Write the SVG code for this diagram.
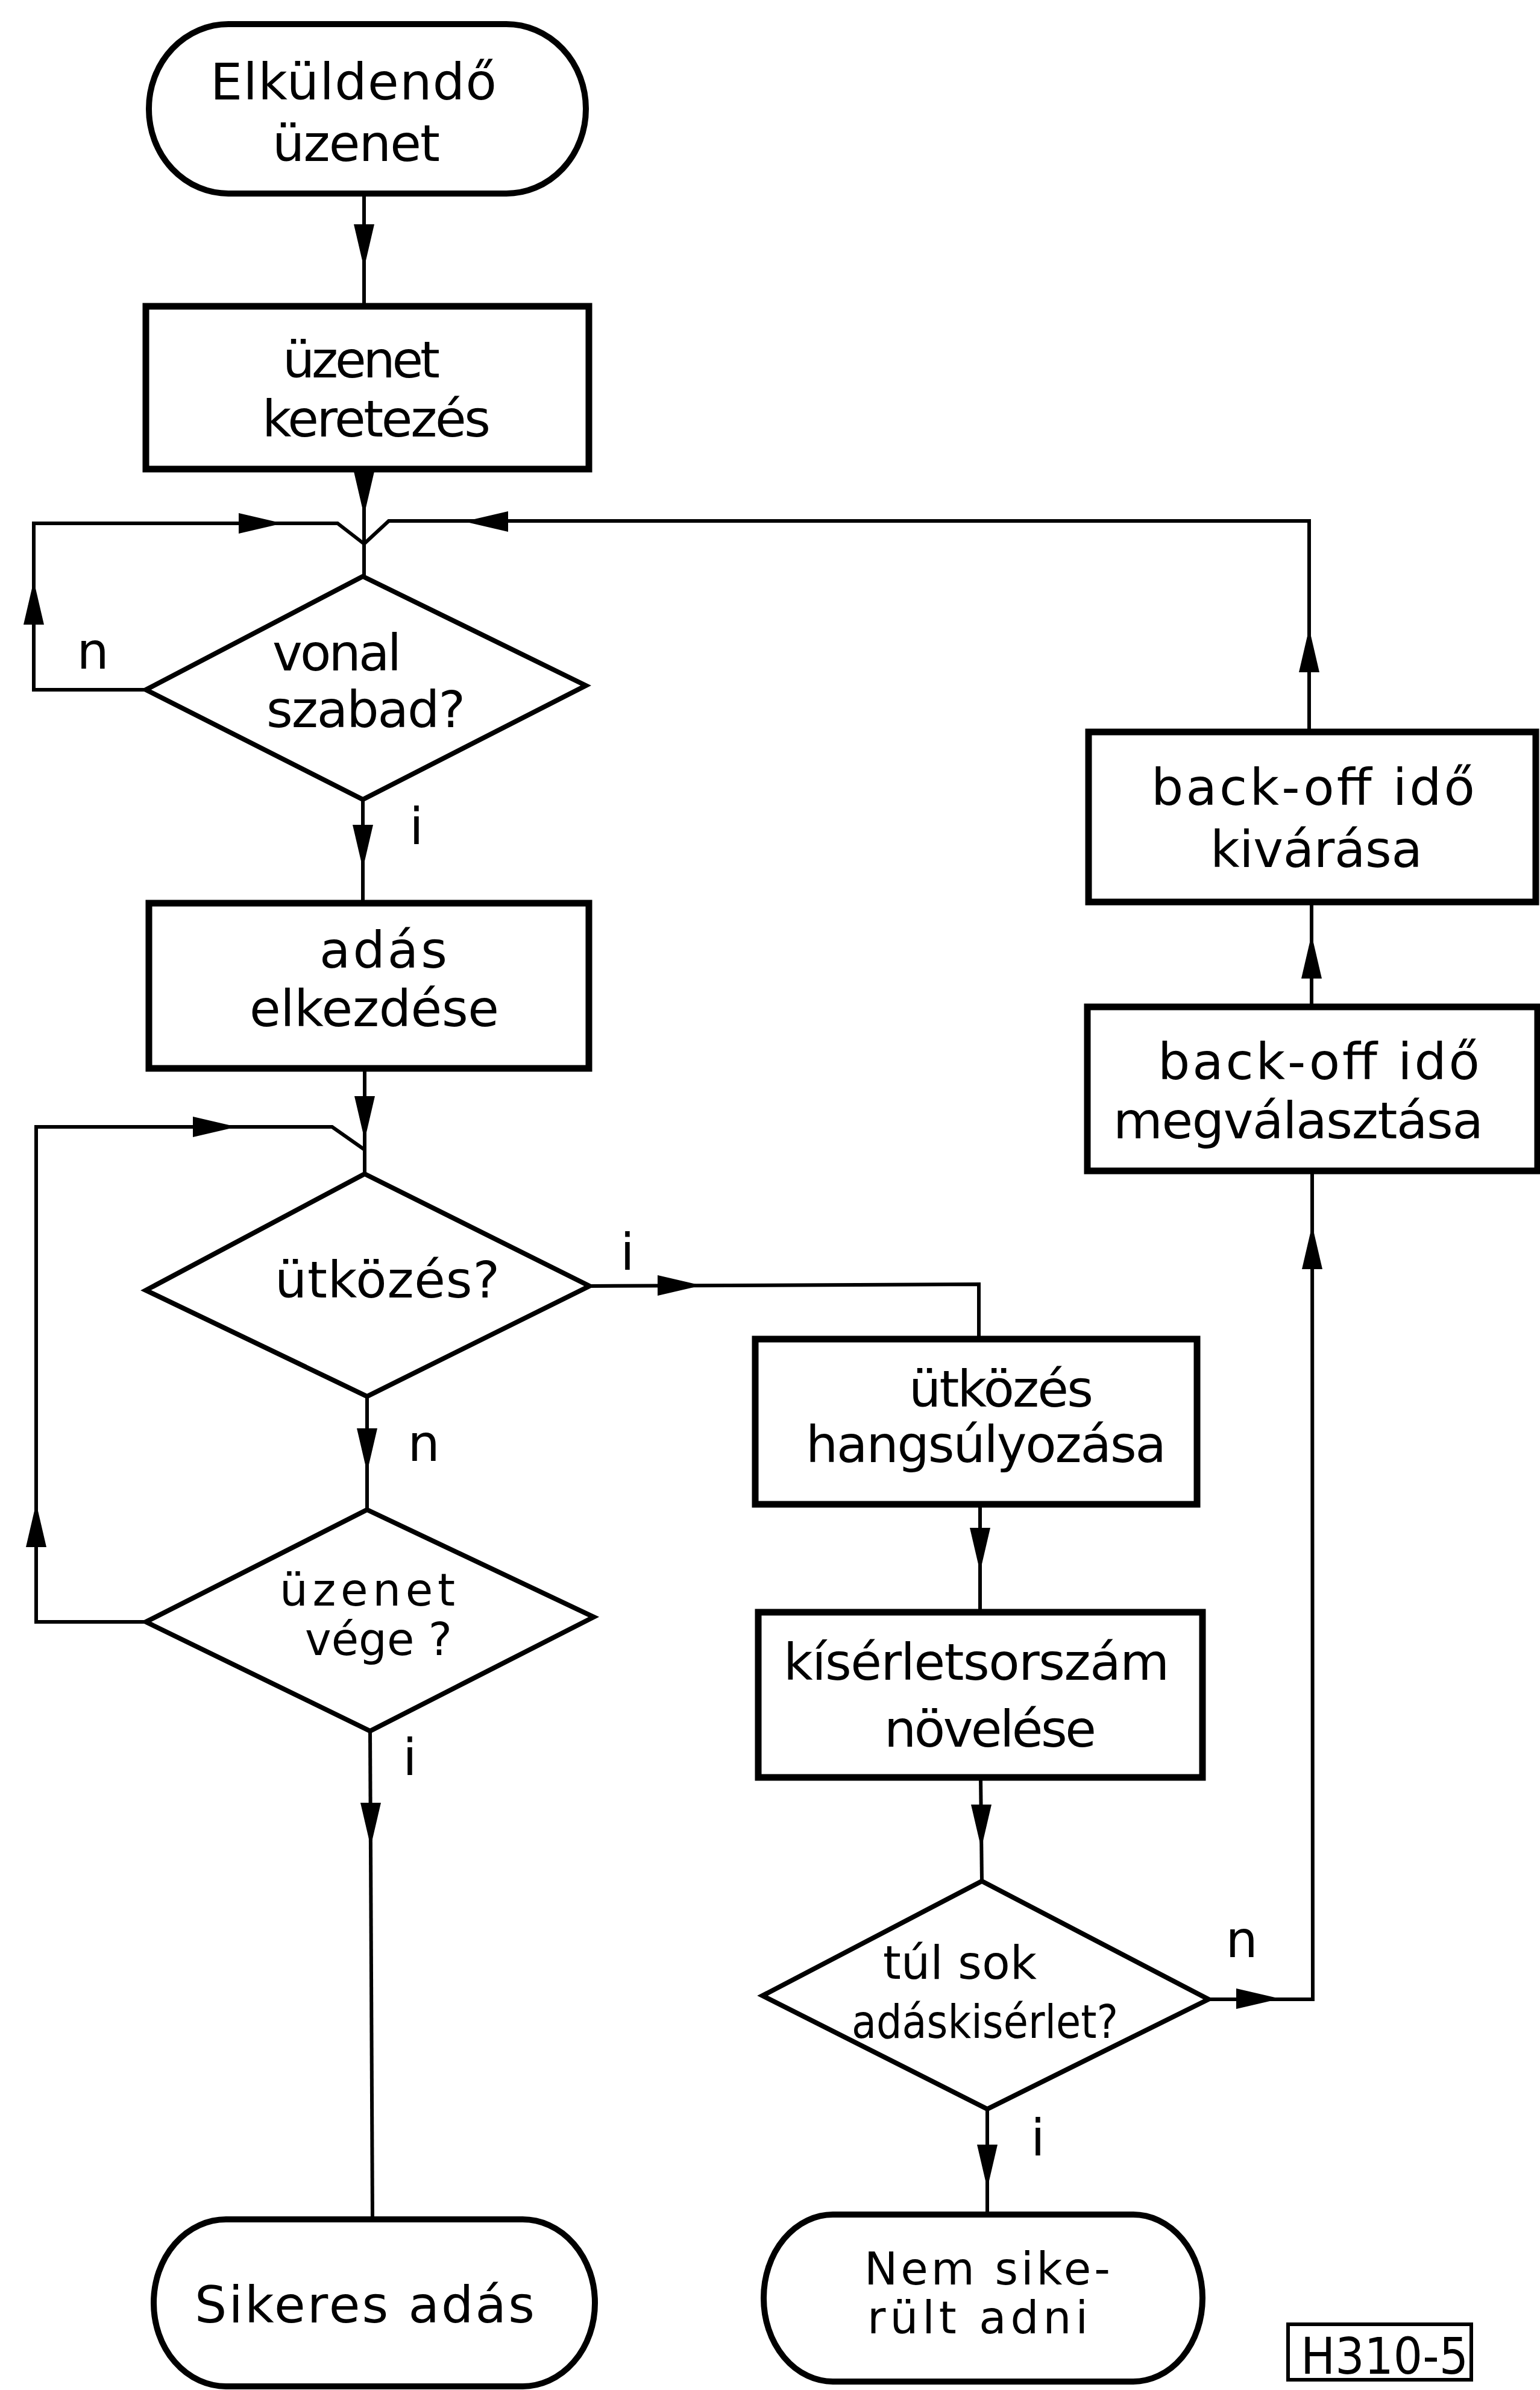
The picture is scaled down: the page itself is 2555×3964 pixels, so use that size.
<svg xmlns="http://www.w3.org/2000/svg" xmlns:xlink="http://www.w3.org/1999/xlink" width="2555" height="3964" viewBox="0 0 2555 3964">
<style>
.box{fill:#fff;stroke:#000;stroke-width:11;stroke-linejoin:miter}
.term{fill:#fff;stroke:#000;stroke-width:10}
.dia{fill:#fff;stroke:#000;stroke-width:8;stroke-linejoin:miter}
.conn{fill:none;stroke:#000;stroke-width:6;stroke-linejoin:miter}
text{font-family:"DejaVu Sans","Liberation Sans",sans-serif;font-size:84px;fill:#000}
.sm{font-size:74px}
.md{font-size:76px}
.lbl{text-anchor:middle}
</style>
<defs>
<path id="ah" d="M3 0 L-70 -17 L-70 17 Z" fill="#000"/>
</defs>
<rect x="0" y="0" width="2555" height="3964" fill="#fff"/>

<g id="connectors">
<path class="conn" d="M604 321 V508"/>
<path class="conn" d="M604 778 V956"/>
<path class="conn" d="M242 1144 H56 V868 H560 L604 902"/>
<path class="conn" d="M2005 3316 H2178 L2177 1942"/>
<path class="conn" d="M2176 1670 V1496"/>
<path class="conn" d="M2172 1214 V864 H645 L604 902"/>
<path class="conn" d="M602 1326 V1498"/>
<path class="conn" d="M605 1771 V1947"/>
<path class="conn" d="M242 2690 H60 V1869 H551 L605 1907"/>
<path class="conn" d="M609 2316 V2504"/>
<path class="conn" d="M978 2133 L1624 2130 V2221"/>
<path class="conn" d="M614 2871 L618 3681"/>
<path class="conn" d="M1626 2495 V2674"/>
<path class="conn" d="M1627 2948 L1629 3120"/>
<path class="conn" d="M1638 3498 V3673"/>
<use xlink:href="#ah" transform="translate(604,442) rotate(90)"/>
<use xlink:href="#ah" transform="translate(604,852) rotate(90)"/>
<use xlink:href="#ah" transform="translate(466,868)"/>
<use xlink:href="#ah" transform="translate(773,865) rotate(180)"/>
<use xlink:href="#ah" transform="translate(56,966) rotate(-90)"/>
<use xlink:href="#ah" transform="translate(602,1438) rotate(90)"/>
<use xlink:href="#ah" transform="translate(605,1888) rotate(90)"/>
<use xlink:href="#ah" transform="translate(390,1869)"/>
<use xlink:href="#ah" transform="translate(60,2496) rotate(-90)"/>
<use xlink:href="#ah" transform="translate(609,2439) rotate(90)"/>
<use xlink:href="#ah" transform="translate(1161,2132)"/>
<use xlink:href="#ah" transform="translate(615,3060) rotate(90)"/>
<use xlink:href="#ah" transform="translate(1626,2604) rotate(90)"/>
<use xlink:href="#ah" transform="translate(1628,3063) rotate(90)"/>
<use xlink:href="#ah" transform="translate(2121,3315)"/>
<use xlink:href="#ah" transform="translate(1638,3627) rotate(90)"/>
<use xlink:href="#ah" transform="translate(2177,2035) rotate(-90)"/>
<use xlink:href="#ah" transform="translate(2176,1553) rotate(-90)"/>
<use xlink:href="#ah" transform="translate(2172,1045) rotate(-90)"/>
</g>

<g id="start">
<rect class="term" x="247" y="40" width="725" height="281" rx="132" ry="140"/>
<text x="349" y="165" textLength="475">Elküldendő</text>
<text x="452" y="267" textLength="278">üzenet</text>
</g>

<g id="framing">
<rect class="box" x="242" y="508" width="735" height="270"/>
<text x="469" y="626" textLength="261">üzenet</text>
<text x="435" y="724" textLength="379">keretezés</text>
</g>

<g id="line-free">
<polygon class="dia" points="602,956 972,1137 602,1326 242,1144"/>
<text x="452" y="1112" textLength="214">vonal</text>
<text x="442" y="1206" textLength="330">szabad?</text>
</g>

<g id="start-tx">
<rect class="box" x="247" y="1498" width="730" height="274"/>
<text x="530" y="1605" textLength="212">adás</text>
<text x="414" y="1702" textLength="414">elkezdése</text>
</g>

<g id="collision">
<polygon class="dia" points="605,1947 978,2133 609,2316 242,2140"/>
<text x="456" y="2152" textLength="373">ütközés?</text>
</g>

<g id="msg-end">
<polygon class="dia" points="609,2504 985,2682 614,2871 242,2690"/>
<text class="sm" x="464" y="2663" textLength="291">üzenet</text>
<text class="sm" x="506" y="2745" textLength="244" lengthAdjust="spacingAndGlyphs">vége ?</text>
</g>

<g id="success">
<rect class="term" x="255" y="3681" width="732" height="277" rx="120" ry="138"/>
<text x="323" y="3852" textLength="564">Sikeres adás</text>
</g>

<g id="jam">
<rect class="box" x="1253" y="2221" width="733" height="274"/>
<text x="1508" y="2333" textLength="306">ütközés</text>
<text x="1337" y="2425" textLength="598">hangsúlyozása</text>
</g>

<g id="attempt-inc">
<rect class="box" x="1258" y="2674" width="737" height="274"/>
<text x="1300" y="2786" textLength="640">kísérletsorszám</text>
<text x="1467" y="2897" textLength="352">növelése</text>
</g>

<g id="too-many">
<polygon class="dia" points="1629,3120 2005,3316 1638,3498 1265,3310"/>
<text class="md" x="1465" y="3282" textLength="255">túl sok</text>
<text class="md" x="1413" y="3380" textLength="442" lengthAdjust="spacingAndGlyphs">adáskisérlet?</text>
</g>

<g id="fail">
<rect class="term" x="1267" y="3673" width="728" height="277" rx="115" ry="138"/>
<text class="sm" x="1434" y="3789" textLength="408">Nem sike-</text>
<text class="sm" x="1439" y="3870" textLength="366">rült adni</text>
</g>

<g id="backoff-select">
<rect class="box" x="1804" y="1670" width="747" height="272"/>
<text x="1921" y="1790" textLength="534">back-off idő</text>
<text x="1847" y="1888" textLength="614">megválasztása</text>
</g>

<g id="backoff-wait">
<rect class="box" x="1806" y="1214" width="742" height="282"/>
<text x="1910" y="1335" textLength="537">back-off idő</text>
<text x="2008" y="1438" textLength="352">kivárása</text>
</g>

<g id="labels">
<text class="lbl" x="154" y="1109">n</text>
<text class="lbl" x="691" y="1400">i</text>
<text class="lbl" x="1041" y="2106">i</text>
<text class="lbl" x="703" y="2423">n</text>
<text class="lbl" x="680" y="2944">i</text>
<text class="lbl" x="2060" y="3246">n</text>
<text class="lbl" x="1722" y="3575">i</text>
</g>

<g id="figure-id">
<rect x="2137" y="3855" width="304" height="92" fill="#fff" stroke="#000" stroke-width="6"/>
<text x="2158" y="3937" textLength="278" lengthAdjust="spacingAndGlyphs">H310-5</text>
</g>
</svg>
